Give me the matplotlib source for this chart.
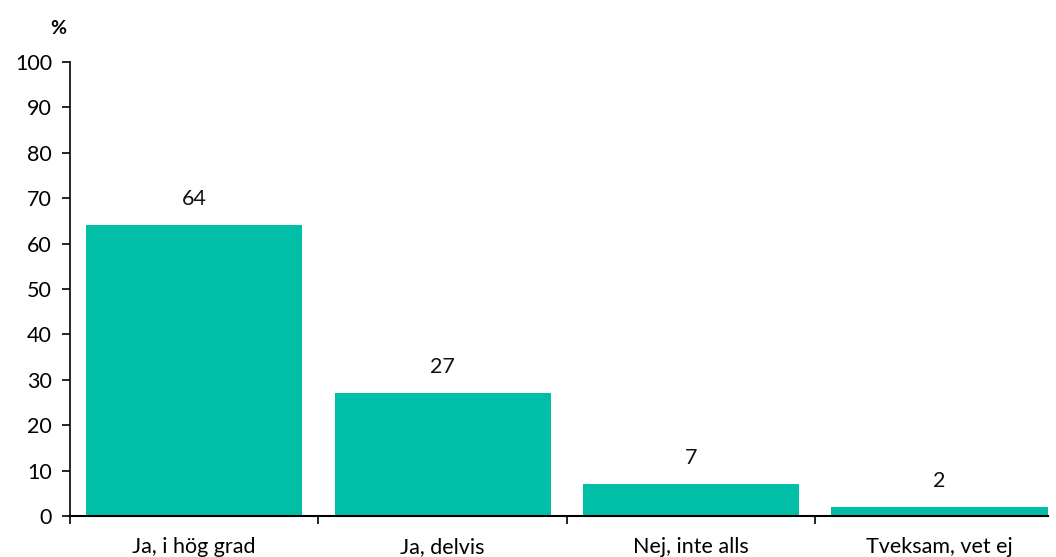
import matplotlib.pyplot as plt
import numpy as np

categories = ["Ja, i hög grad", "Ja, delvis", "Nej, inte alls", "Tveksam, vet ej"]
values = [64, 27, 7, 2]

plt.rcParams['font.family'] = ['Lato', 'DejaVu Sans']

fig = plt.figure(figsize=(10.56, 5.57), dpi=100)
ax = fig.add_axes([70 / 1056, 41 / 557, 978 / 1056, 454 / 557])

x = np.arange(len(categories))
ax.bar(x, values, width=0.87, color="#00BFA6")

for xi, v in zip(x, values):
    ax.text(xi, v + 3.6, str(v), ha="center", va="bottom", fontsize=15.5, color="#111111")

ax.set_xlim(-0.5, 3.437)
ax.set_ylim(0, 100)
ax.set_yticks(range(0, 101, 10))
ax.tick_params(axis="y", labelsize=15.5, length=6, width=1.2, pad=7)

# grenserna mellan kategorierna som huvudticks, etiketterna som minor
ax.set_xticks(np.arange(-0.5, 3.0, 1.0))
ax.set_xticklabels([])
ax.set_xticks(x, minor=True)
ax.set_xticklabels(categories, minor=True, fontsize=15.5)
ax.tick_params(axis="x", which="major", length=6, width=1.2)
ax.tick_params(axis="x", which="minor", length=0, pad=15)

for s in ["top", "right"]:
    ax.spines[s].set_visible(False)
ax.spines["left"].set_linewidth(1.2)
ax.spines["bottom"].set_linewidth(1.5)

fig.text(58 / 1056, 1 - 28 / 557, "%", fontsize=14, fontweight="bold", ha="center", va="center")

plt.savefig("out.png")
